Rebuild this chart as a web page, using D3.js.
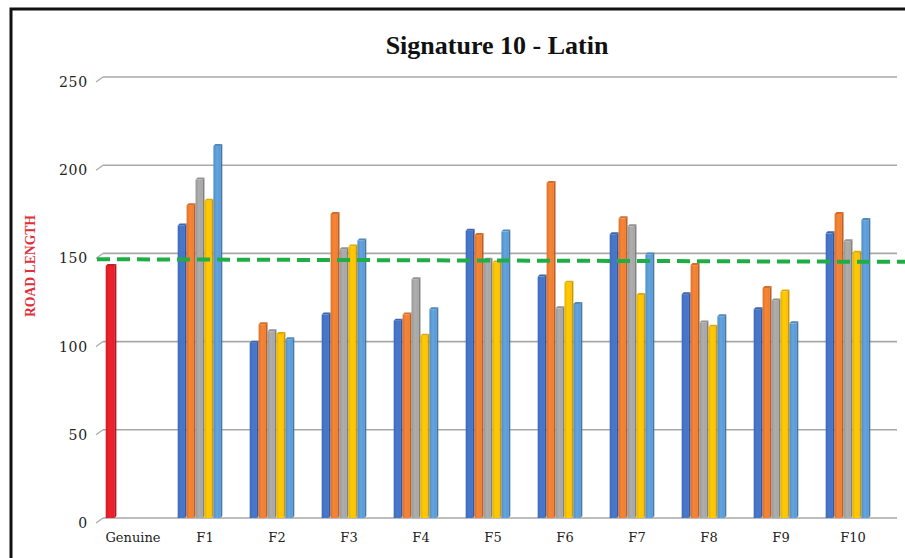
<!DOCTYPE html>
<html><head><meta charset="utf-8">
<script src="https://cdn.jsdelivr.net/npm/d3@7"></script>
<style>html,body{margin:0;padding:0;background:#fff;}svg{display:block;}</style>
</head><body>
<svg id="chart" width="905" height="558"></svg>
<script>
const categories = ["Genuine","F1","F2","F3","F4","F5","F6","F7","F8","F9","F10"];
const seriesNames = ["S1","S2","S3","S4","S5"];
const genuineValue = [144];
const s1 = [null,167,100.5,116.5,113,164,138,162,128,119.5,162.5];
const s2 = [null,178.5,111,173.5,116.5,161.5,191,171,144.5,131.5,173.5];
const s3 = [null,193,107,153.5,136.5,147.5,120,166.5,112,124.5,158];
const s4 = [null,181,105.5,155,104.5,146,134.5,127.5,109.5,129.5,151.5];
const s5 = [null,212,102.5,158.5,119.5,163.5,122.5,150.5,115.5,111.5,170];
const yTicks = [0,50,100,150,200,250];
const thresholdLine = [146.7,145.2];
const seriesColors = ["#4472c4","#ed7d31","#a5a5a5","#ffc000","#5b9bd5"];
const genuineColor = "#e3202b";

const svg = d3.select("#chart");
const defs = svg.append("defs");

const y = d3.scaleLinear().domain([0,250]).range([518,77]);
const x = d3.scaleBand().domain(categories).range([92,884]).paddingInner(0.38).paddingOuter(0.19);
const xs = d3.scaleBand().domain(seriesNames).range([0,x.bandwidth()]);

// frame
svg.append("path").attr("d","M11,560 L11,9 L910,9").attr("fill","none").attr("stroke","#111").attr("stroke-width",3);

// title
svg.append("text").attr("x",497).attr("y",54).attr("text-anchor","middle")
  .attr("font-family","'Liberation Serif','Times New Roman',serif").attr("font-weight","bold")
  .attr("font-size",26).attr("fill","#111").text("Signature 10 - Latin");

// y axis label
svg.append("text").attr("transform","translate(34.5,266) rotate(-90)").attr("text-anchor","middle")
  .attr("font-family","'Liberation Serif',serif").attr("font-weight","bold")
  .attr("font-size",15).attr("textLength",102).attr("lengthAdjust","spacingAndGlyphs")
  .attr("fill","#e0303a").text("ROAD LENGTH");

// gridlines
const grid = svg.append("g");
yTicks.forEach(t => {
  const yy = y(t);
  grid.append("line").attr("x1",103).attr("x2",897).attr("y1",yy).attr("y2",yy)
    .attr("stroke","#a8a8a8").attr("stroke-width",1.6);
  grid.append("line").attr("x1",96).attr("x2",103).attr("y1",yy+5).attr("y2",yy)
    .attr("stroke","#a8a8a8").attr("stroke-width",1.2);
});

// y tick labels
const yAxis = d3.axisLeft(y).tickValues(yTicks).tickSize(0).tickPadding(0);
const yg = svg.append("g").attr("transform","translate(88,5)").call(yAxis);
yg.select(".domain").remove();
yg.selectAll("text").attr("font-family","'DejaVu Serif',serif").attr("font-size",14)
  .attr("letter-spacing",0.8).attr("fill","#222");

// x labels
const xAxis = d3.axisBottom(x).tickSize(0).tickPadding(0);
const xg = svg.append("g").attr("transform","translate(5,533)").call(xAxis);
xg.select(".domain").remove();
xg.selectAll("text").attr("font-family","'DejaVu Serif',serif").attr("font-size",13).attr("fill","#222");

function shade(c,k){ return d3.color(c)[k>0?"brighter":"darker"](Math.abs(k)).formatHex(); }

function gradFor(color,id){
  const g = defs.append("linearGradient").attr("id",id).attr("x1","0").attr("x2","1").attr("y1","0").attr("y2","0");
  g.append("stop").attr("offset","0").attr("stop-color",shade(color,-0.25));
  g.append("stop").attr("offset","0.45").attr("stop-color",shade(color,0.15));
  g.append("stop").attr("offset","1").attr("stop-color",color);
  return "url(#"+id+")";
}

const bars = svg.append("g");
function drawBar(x0,w,v,color,id){
  const d = 2;
  const top = y(v) + d, base = y(0);
  const fw = w - d;
  const fill = gradFor(color,id);
  bars.append("path").attr("d",`M${x0+fw},${top} L${x0+w},${top-d} L${x0+w},${base-d} L${x0+fw},${base} Z`).attr("fill",shade(color,-0.7));
  bars.append("path").attr("d",`M${x0},${top} L${x0+d},${top-d} L${x0+w},${top-d} L${x0+fw},${top} Z`).attr("fill",shade(color,-0.35));
  bars.append("rect").attr("x",x0).attr("y",top).attr("width",fw+0.3).attr("height",base-top).attr("fill",fill);
}

// genuine bar
drawBar(x("Genuine"), xs.bandwidth()*1.2, genuineValue[0], genuineColor, "gGen");

const allSeries = [s1,s2,s3,s4,s5];
categories.forEach((c,i) => {
  allSeries.forEach((s,j) => {
    if (s[i] == null) return;
    drawBar(x(c)+xs(seriesNames[j]), xs.bandwidth(), s[i], seriesColors[j], `g${i}_${j}`);
  });
});

// threshold dashed line
svg.append("line").attr("x1",97).attr("x2",905).attr("y1",y(thresholdLine[0])).attr("y2",y(thresholdLine[1]))
  .attr("stroke","#1fae45").attr("stroke-width",4).attr("stroke-dasharray","13,7");
</script>
</body></html>
